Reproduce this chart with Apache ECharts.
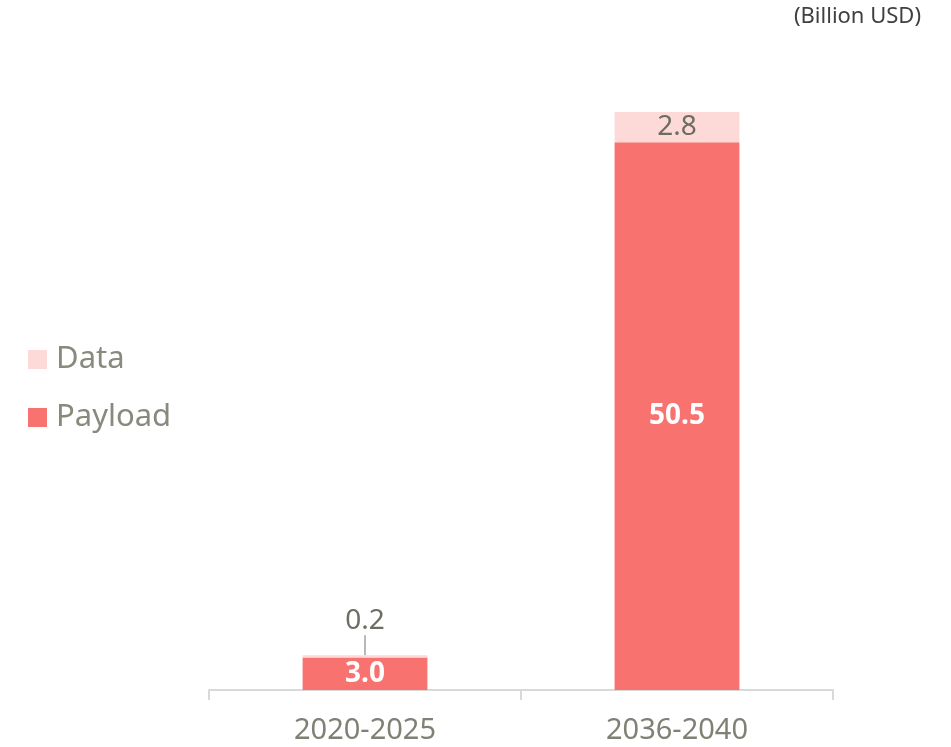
<!DOCTYPE html>
<html>
<head>
<meta charset="utf-8">
<script src="https://cdn.jsdelivr.net/npm/echarts@6/dist/echarts.min.js"></script>
<style>html,body{margin:0;padding:0;background:#fff;}#c{width:951px;height:747px;}</style>
</head>
<body>
<div id="c"></div>
<script>
const categories = ['2020-2025', '2036-2040'];
const payload = [3.0, 50.5];
const dataSeg = [0.2, 2.8];
const unitLabel = '(Billion USD)';

const totals = payload.map((v, i) => v + dataSeg[i]);
const chart = echarts.init(document.getElementById('c'));
chart.setOption({
  animation: false,
  grid: { left: 209, right: 118, top: 112, bottom: 57 },
  graphic: [{
    type: 'text', right: 30, top: 6,
    style: { text: unitLabel, font: '22px "Noto Sans", sans-serif', fill: '#404040' }
  }],
  legend: {
    orient: 'vertical', left: 23, top: 339,
    data: ['Data', 'Payload'],
    itemWidth: 19, itemHeight: 19, itemGap: 27, icon: 'rect',
    textStyle: { fontSize: 31, color: '#878a7c', fontFamily: '"Noto Sans", sans-serif', padding: [0,0,0,4] }
  },
  xAxis: {
    type: 'category', data: categories,
    axisLine: { lineStyle: { color: '#d9d9d9', width: 2 } },
    axisTick: { show: true, length: 10, lineStyle: { color: '#d9d9d9', width: 2 } },
    axisLabel: { fontSize: 29, color: '#7f8174', margin: 26, fontFamily: '"Noto Sans", sans-serif' }
  },
  yAxis: { type: 'value', min: 0, max: Math.max(...totals), show: false, splitLine: { show: false } },
  series: [
    {
      name: 'Payload', type: 'bar', stack: 's', data: payload, barWidth: '40%',
      itemStyle: { color: '#f8736f' },
      label: { show: true, position: 'inside', color: '#fff', fontWeight: 'bold', fontSize: 28,
        fontFamily: '"Noto Sans", sans-serif', formatter: p => p.value.toFixed(1) }
    },
    {
      name: 'Data', type: 'bar', stack: 's', barWidth: '40%',
      data: dataSeg.map((v, i) => i === 0
        ? { value: v, label: { position: 'top', distance: 0 } }
        : { value: v }),
      itemStyle: { color: '#fdd9d8' },
      label: { show: true, position: 'inside', color: '#6b6e62', fontSize: 28,
        fontFamily: '"Noto Sans", sans-serif', formatter: p => p.value.toFixed(1) },
      labelLayout: function (p) {
        if (p.dataIndex === 0) { return { dy: -20 }; }
        return {};
      },
      labelLine: { show: true, length2: 0, lineStyle: { color: '#b8b8b8', width: 2 } }
    }
  ]
});
</script>
</body>
</html>
